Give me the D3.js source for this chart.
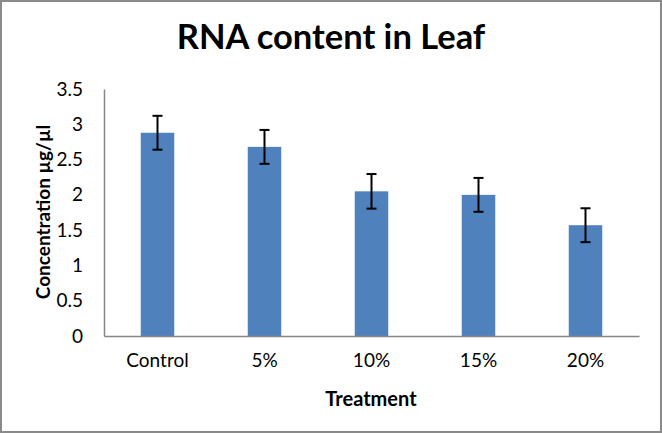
<!DOCTYPE html>
<html>
<head>
<meta charset="utf-8">
<script src="https://cdn.jsdelivr.net/npm/d3@7"></script>
<style>
  html, body { margin: 0; padding: 0; background: #fff; }
  svg { display: block; }
  text { font-family: Lato, "Open Sans", sans-serif; fill: #000; }
</style>
</head>
<body>
<script>
// ---- data ----
const categories = ["Control", "5%", "10%", "15%", "20%"];
const values = [2.88, 2.68, 2.05, 2.0, 1.57];
const errors = [0.24, 0.24, 0.245, 0.24, 0.24];
const yTicks = [0, 0.5, 1, 1.5, 2, 2.5, 3, 3.5];
const yTickLabels = ["0", "0.5", "1", "1.5", "2", "2.5", "3", "3.5"];
const chartTitle = "RNA content in Leaf";
const xTitle = "Treatment";
const yTitle = "Concentration µg/µl";

// ---- layout ----
const W = 662, H = 433;
const plot = { left: 104, right: 639, top: 89, bottom: 336 };

const svg = d3.select("body").append("svg").attr("width", W).attr("height", H);
svg.append("rect").attr("x", 0).attr("y", 0).attr("width", W).attr("height", H).attr("fill", "#fff");
svg.append("rect").attr("x", 1).attr("y", 1).attr("width", W - 2).attr("height", H - 2)
  .attr("fill", "none").attr("stroke", "#8a8a8a").attr("stroke-width", 2);

const x = d3.scaleBand().domain(categories).range([plot.left, plot.right]).paddingInner(0.687).paddingOuter(0.3435);
const y = d3.scaleLinear().domain([0, 3.5]).range([plot.bottom, plot.top]);

// bars
svg.append("g").selectAll("rect").data(categories).join("rect")
  .attr("x", d => x(d))
  .attr("y", (d, i) => y(values[i]))
  .attr("width", x.bandwidth())
  .attr("height", (d, i) => y(0) - y(values[i]))
  .attr("fill", "#4F81BD");

// error bars
const eg = svg.append("g").attr("stroke", "#000").attr("stroke-width", 2);
categories.forEach((c, i) => {
  const cx = x(c) + x.bandwidth() / 2;
  const y1 = y(values[i] + errors[i]), y2 = y(values[i] - errors[i]);
  eg.append("line").attr("x1", cx).attr("x2", cx).attr("y1", y1).attr("y2", y2);
  eg.append("line").attr("x1", cx - 5).attr("x2", cx + 5).attr("y1", y1).attr("y2", y1);
  eg.append("line").attr("x1", cx - 5).attr("x2", cx + 5).attr("y1", y2).attr("y2", y2);
});

// axes
const yAxis = d3.axisLeft(y).tickValues(yTicks).tickFormat((d, i) => yTickLabels[i]).tickSize(0).tickPadding(21);
const gy = svg.append("g").attr("transform", `translate(${plot.left},0)`).call(yAxis);
gy.select(".domain").attr("stroke", "#868686").attr("stroke-width", 1.5);
gy.selectAll("text").style("font-size", "19px").style("font-family", "Lato, sans-serif");

const xAxis = d3.axisBottom(x).tickSize(0).tickPadding(18);
const gx = svg.append("g").attr("transform", `translate(0,${plot.bottom})`).call(xAxis);
gx.select(".domain").attr("stroke", "#868686").attr("stroke-width", 1.5);
gx.selectAll("text").style("font-size", "19px").style("font-family", "Lato, sans-serif");

// titles
svg.append("text").attr("x", 331).attr("y", 49).attr("text-anchor", "middle")
  .style("font-size", "34.5px").style("font-weight", "bold").text(chartTitle);
svg.append("text").attr("x", 371).attr("y", 406).attr("text-anchor", "middle")
  .style("font-size", "20px").style("font-weight", "bold").text(xTitle);
svg.append("text").attr("transform", "translate(50,212) rotate(-90)").attr("text-anchor", "middle")
  .style("font-size", "19px").style("font-weight", "bold").text(yTitle);
</script>
</body>
</html>
